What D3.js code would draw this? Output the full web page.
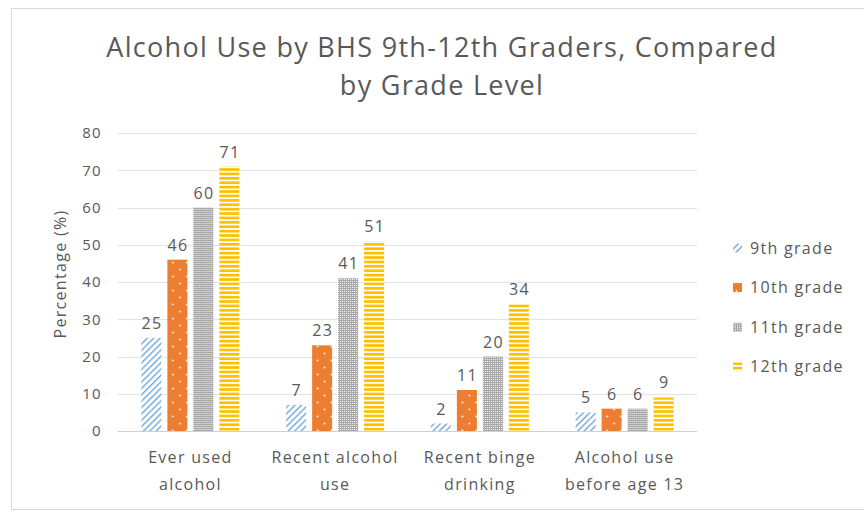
<!DOCTYPE html>
<html>
<head>
<meta charset="utf-8">
<script src="https://cdn.jsdelivr.net/npm/d3@7"></script>
<style>
  body { margin: 0; background: #fff; }
  text { font-family: "Open Sans", "Noto Sans", sans-serif; fill: #595959; letter-spacing: 1.3px; }
</style>
</head>
<body>
<div id="chart"></div>
<script>
var categories = [["Ever used", "alcohol"], ["Recent alcohol", "use"], ["Recent binge", "drinking"], ["Alcohol use", "before age 13"]];
var grades = ["9th grade", "10th grade", "11th grade", "12th grade"];
var grade9 = [25, 7, 2, 5];
var grade10 = [46, 23, 11, 6];
var grade11 = [60, 41, 20, 6];
var grade12 = [71, 51, 34, 9];
var yTicks = [0, 10, 20, 30, 40, 50, 60, 70, 80];

var series = [grade9, grade10, grade11, grade12];
var catKeys = categories.map(c => c.join(" "));

var svgWidth = 864, svgHeight = 512;
var margin = { top: 133, right: 167, bottom: 81, left: 118 };
var width = svgWidth - margin.left - margin.right;
var height = svgHeight - margin.top - margin.bottom;

var svg = d3.select("#chart").append("svg")
  .attr("width", svgWidth)
  .attr("height", svgHeight);

// patterns
var defs = svg.append("defs");

var p9 = defs.append("pattern").attr("id", "pat0")
  .attr("patternUnits", "userSpaceOnUse")
  .attr("width", 4.5).attr("height", 4.5)
  .attr("patternTransform", "rotate(45)");
p9.append("rect").attr("width", 4.5).attr("height", 4.5).attr("fill", "#fff");
p9.append("rect").attr("width", 1.4).attr("height", 4.5).attr("fill", "#6fa8dc");

var p10 = defs.append("pattern").attr("id", "pat1")
  .attr("patternUnits", "userSpaceOnUse")
  .attr("width", 14).attr("height", 14);
p10.append("rect").attr("width", 14).attr("height", 14).attr("fill", "#ed7d31");
p10.append("circle").attr("cx", 3.5).attr("cy", 3.5).attr("r", 0.9).attr("fill", "#fff");
p10.append("circle").attr("cx", 10.5).attr("cy", 10.5).attr("r", 0.9).attr("fill", "#fff");

var p11 = defs.append("pattern").attr("id", "pat2")
  .attr("patternUnits", "userSpaceOnUse")
  .attr("width", 4).attr("height", 4);
p11.append("rect").attr("width", 4).attr("height", 4).attr("fill", "#a8a8a8");
p11.append("rect").attr("x", 0).attr("y", 0).attr("width", 1).attr("height", 1).attr("fill", "#fff");
p11.append("rect").attr("x", 2).attr("y", 2).attr("width", 1).attr("height", 1).attr("fill", "#fff");
p11.append("rect").attr("x", 2).attr("y", 0).attr("width", 1).attr("height", 1).attr("fill", "#e6e6e6");
p11.append("rect").attr("x", 0).attr("y", 2).attr("width", 1).attr("height", 1).attr("fill", "#e6e6e6");

var p12 = defs.append("pattern").attr("id", "pat3")
  .attr("patternUnits", "userSpaceOnUse")
  .attr("width", 8).attr("height", 4.4);
p12.append("rect").attr("width", 8).attr("height", 4.4).attr("fill", "#fff");
p12.append("rect").attr("width", 8).attr("height", 2.7).attr("fill", "#ffc000");

// outer border
svg.append("rect")
  .attr("x", 11.5).attr("y", 8.5)
  .attr("width", 860).attr("height", 501)
  .attr("fill", "none").attr("stroke", "#d9d9d9");

// title
var title = svg.append("text")
  .attr("x", 442).attr("y", 57)
  .attr("text-anchor", "middle")
  .attr("font-size", "27px");
title.append("tspan").attr("x", 442).text("Alcohol Use by BHS 9th-12th Graders, Compared");
title.append("tspan").attr("x", 442).attr("dy", 38).text("by Grade Level");

var chart = svg.append("g")
  .attr("transform", `translate(${margin.left}, ${margin.top})`);

var x0 = d3.scaleBand()
  .domain(catKeys)
  .range([0, width])
  .paddingInner(0.323)
  .paddingOuter(0.1615);

var x1 = d3.scaleBand()
  .domain(grades)
  .range([0, x0.bandwidth()])
  .paddingInner(0.23);

var y = d3.scaleLinear()
  .domain([0, 80])
  .range([height, 0]);

// gridlines
chart.append("g")
  .selectAll("line")
  .data(yTicks)
  .enter()
  .append("line")
  .attr("x1", 0).attr("x2", width)
  .attr("y1", d => Math.round(y(d)) + 0.5)
  .attr("y2", d => Math.round(y(d)) + 0.5)
  .attr("stroke", d => d === 0 ? "#d0d0d0" : "#e3e3e3")
  .attr("stroke-width", 1);

var leftAxis = d3.axisLeft(y).tickValues(yTicks).tickSize(0).tickPadding(16);
var yAxis = chart.append("g").call(leftAxis);
yAxis.select(".domain").remove();
yAxis.selectAll("text")
  .attr("font-size", "15px")
  .attr("fill", "#595959")
  .style("font-family", "'Open Sans', sans-serif");

// bars
var groups = chart.selectAll(".group")
  .data(catKeys)
  .enter()
  .append("g")
  .attr("class", "group")
  .attr("transform", d => `translate(${x0(d)}, 0)`);

groups.each(function(cat, ci) {
  var g = d3.select(this);
  var rows = grades.map((gr, gi) => ({ grade: gr, gi: gi, value: series[gi][ci] }));

  g.selectAll("rect")
    .data(rows)
    .enter()
    .append("rect")
    .attr("x", d => x1(d.grade))
    .attr("y", d => y(d.value))
    .attr("width", x1.bandwidth())
    .attr("height", d => height - y(d.value))
    .attr("fill", d => `url(#pat${d.gi})`);

  g.selectAll("text")
    .data(rows)
    .enter()
    .append("text")
    .attr("x", d => x1(d.grade) + x1.bandwidth() / 2 + 0.6)
    .attr("y", d => y(d.value) - 9)
    .attr("text-anchor", "middle")
    .attr("font-size", "16px")
    .text(d => d.value);
});

// category labels
var catLabels = chart.append("g")
  .selectAll("text")
  .data(categories)
  .enter()
  .append("text")
  .attr("text-anchor", "middle")
  .attr("font-size", "16px")
  .attr("transform", (d, i) => `translate(${x0(catKeys[i]) + x0.bandwidth() / 2}, ${height + 32})`);

catLabels.append("tspan").attr("x", 0).text(d => d[0]);
catLabels.append("tspan").attr("x", 0).attr("dy", 27).text(d => d[1]);

// y axis title
chart.append("text")
  .attr("transform", "rotate(-90)")
  .attr("x", -height / 2 + 8)
  .attr("y", -52)
  .attr("text-anchor", "middle")
  .attr("font-size", "16px")
  .text("Percentage (%)");

// legend
var legend = svg.append("g")
  .attr("transform", "translate(733, 248)");

var items = legend.selectAll("g")
  .data(grades)
  .enter()
  .append("g")
  .attr("transform", (d, i) => `translate(0, ${i * 39.6})`);

items.append("rect")
  .attr("x", 0).attr("y", -4.5)
  .attr("width", 9).attr("height", 9)
  .attr("fill", (d, i) => `url(#pat${i})`);

items.append("text")
  .attr("x", 17).attr("y", 5.5)
  .attr("font-size", "16px")
  .text(d => d);
</script>
</body>
</html>
